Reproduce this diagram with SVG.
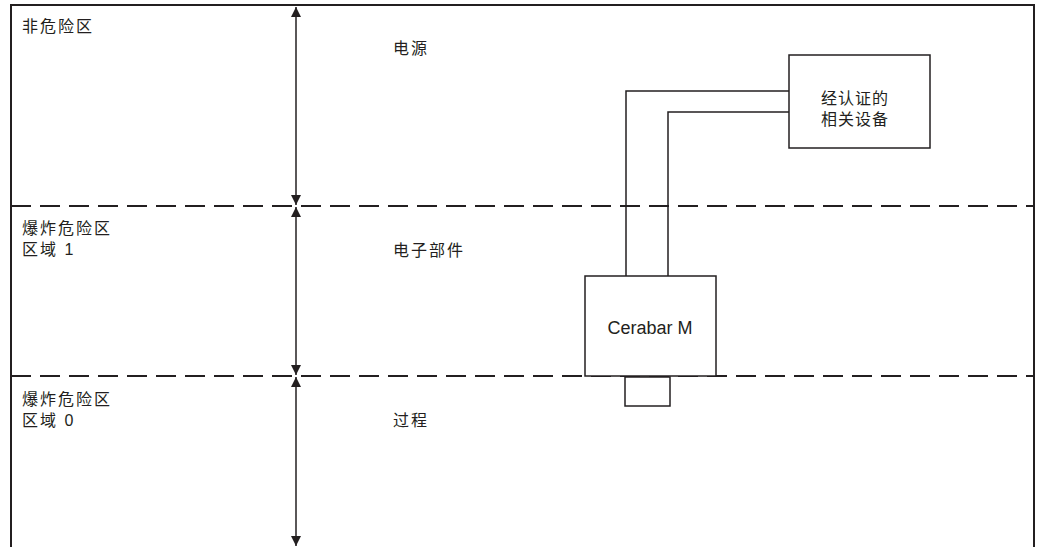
<svg xmlns="http://www.w3.org/2000/svg" width="1037" height="547" viewBox="0 0 1037 547">
<defs>
<style>
.t{font-family:"Liberation Sans","Noto Sans CJK SC",sans-serif;font-size:16px;letter-spacing:2px;fill:#231f20}
.c{letter-spacing:1px}
.box{fill:#fff;stroke:#231f20;stroke-width:1.5}
.w{fill:none;stroke:#231f20;stroke-width:1.5}
.dash{stroke:#231f20;stroke-width:2;stroke-dasharray:20 9}
.dim{stroke:#231f20;stroke-width:1.5}
</style>
<marker id="ah" viewBox="0 0 10 16" refX="10" refY="8" markerWidth="10" markerHeight="16" markerUnits="userSpaceOnUse" orient="auto">
<path d="M0,3 L10,8 L0,13 Z" fill="#231f20"/>
</marker>
</defs>
<rect width="1037" height="547" fill="#fff"/>
<g id="frame">
<polyline points="11,547 11,5 1034,5 1034,547" fill="none" stroke="#231f20" stroke-width="2"/>
<line class="dash" x1="11" y1="206" x2="1034" y2="206"/>
<line class="dash" x1="11" y1="376" x2="1034" y2="376"/>
</g>
<g id="labels">
<text class="t" x="22" y="32">非危险区</text>
<text class="t" x="22" y="234">爆炸危险区</text>
<text class="t" x="22" y="255">区域 1</text>
<text class="t" x="22" y="405">爆炸危险区</text>
<text class="t" x="22" y="426">区域 0</text>
<text class="t" x="393" y="54">电源</text>
<text class="t" x="393" y="256">电子部件</text>
<text class="t" x="393" y="426">过程</text>
</g>
<g id="connectors">
<line class="dim" x1="296" y1="106" x2="296" y2="7" marker-end="url(#ah)"/>
<line class="dim" x1="296" y1="106" x2="296" y2="205" marker-end="url(#ah)"/>
<line class="dim" x1="296" y1="291" x2="296" y2="207" marker-end="url(#ah)"/>
<line class="dim" x1="296" y1="291" x2="296" y2="375" marker-end="url(#ah)"/>
<line class="dim" x1="296" y1="460" x2="296" y2="377" marker-end="url(#ah)"/>
<line class="dim" x1="296" y1="460" x2="296" y2="546" marker-end="url(#ah)"/>
<polyline class="w" points="789,91 626,91 626,276"/>
<polyline class="w" points="789,112 668,112 668,276"/>
</g>
<g id="device">
<rect class="box" x="789" y="55" width="141" height="93"/>
<text class="t c" x="855" y="104" text-anchor="middle">经认证的</text>
<text class="t c" x="855" y="125" text-anchor="middle">相关设备</text>
</g>
<g id="cerabar">
<rect class="box" x="585" y="276" width="131" height="100"/>
<text class="t" x="650" y="334" text-anchor="middle" style="font-size:18px;letter-spacing:0">Cerabar M</text>
</g>
<g id="process-connection">
<rect class="box" x="625" y="377" width="45" height="29"/>
</g>
</svg>
